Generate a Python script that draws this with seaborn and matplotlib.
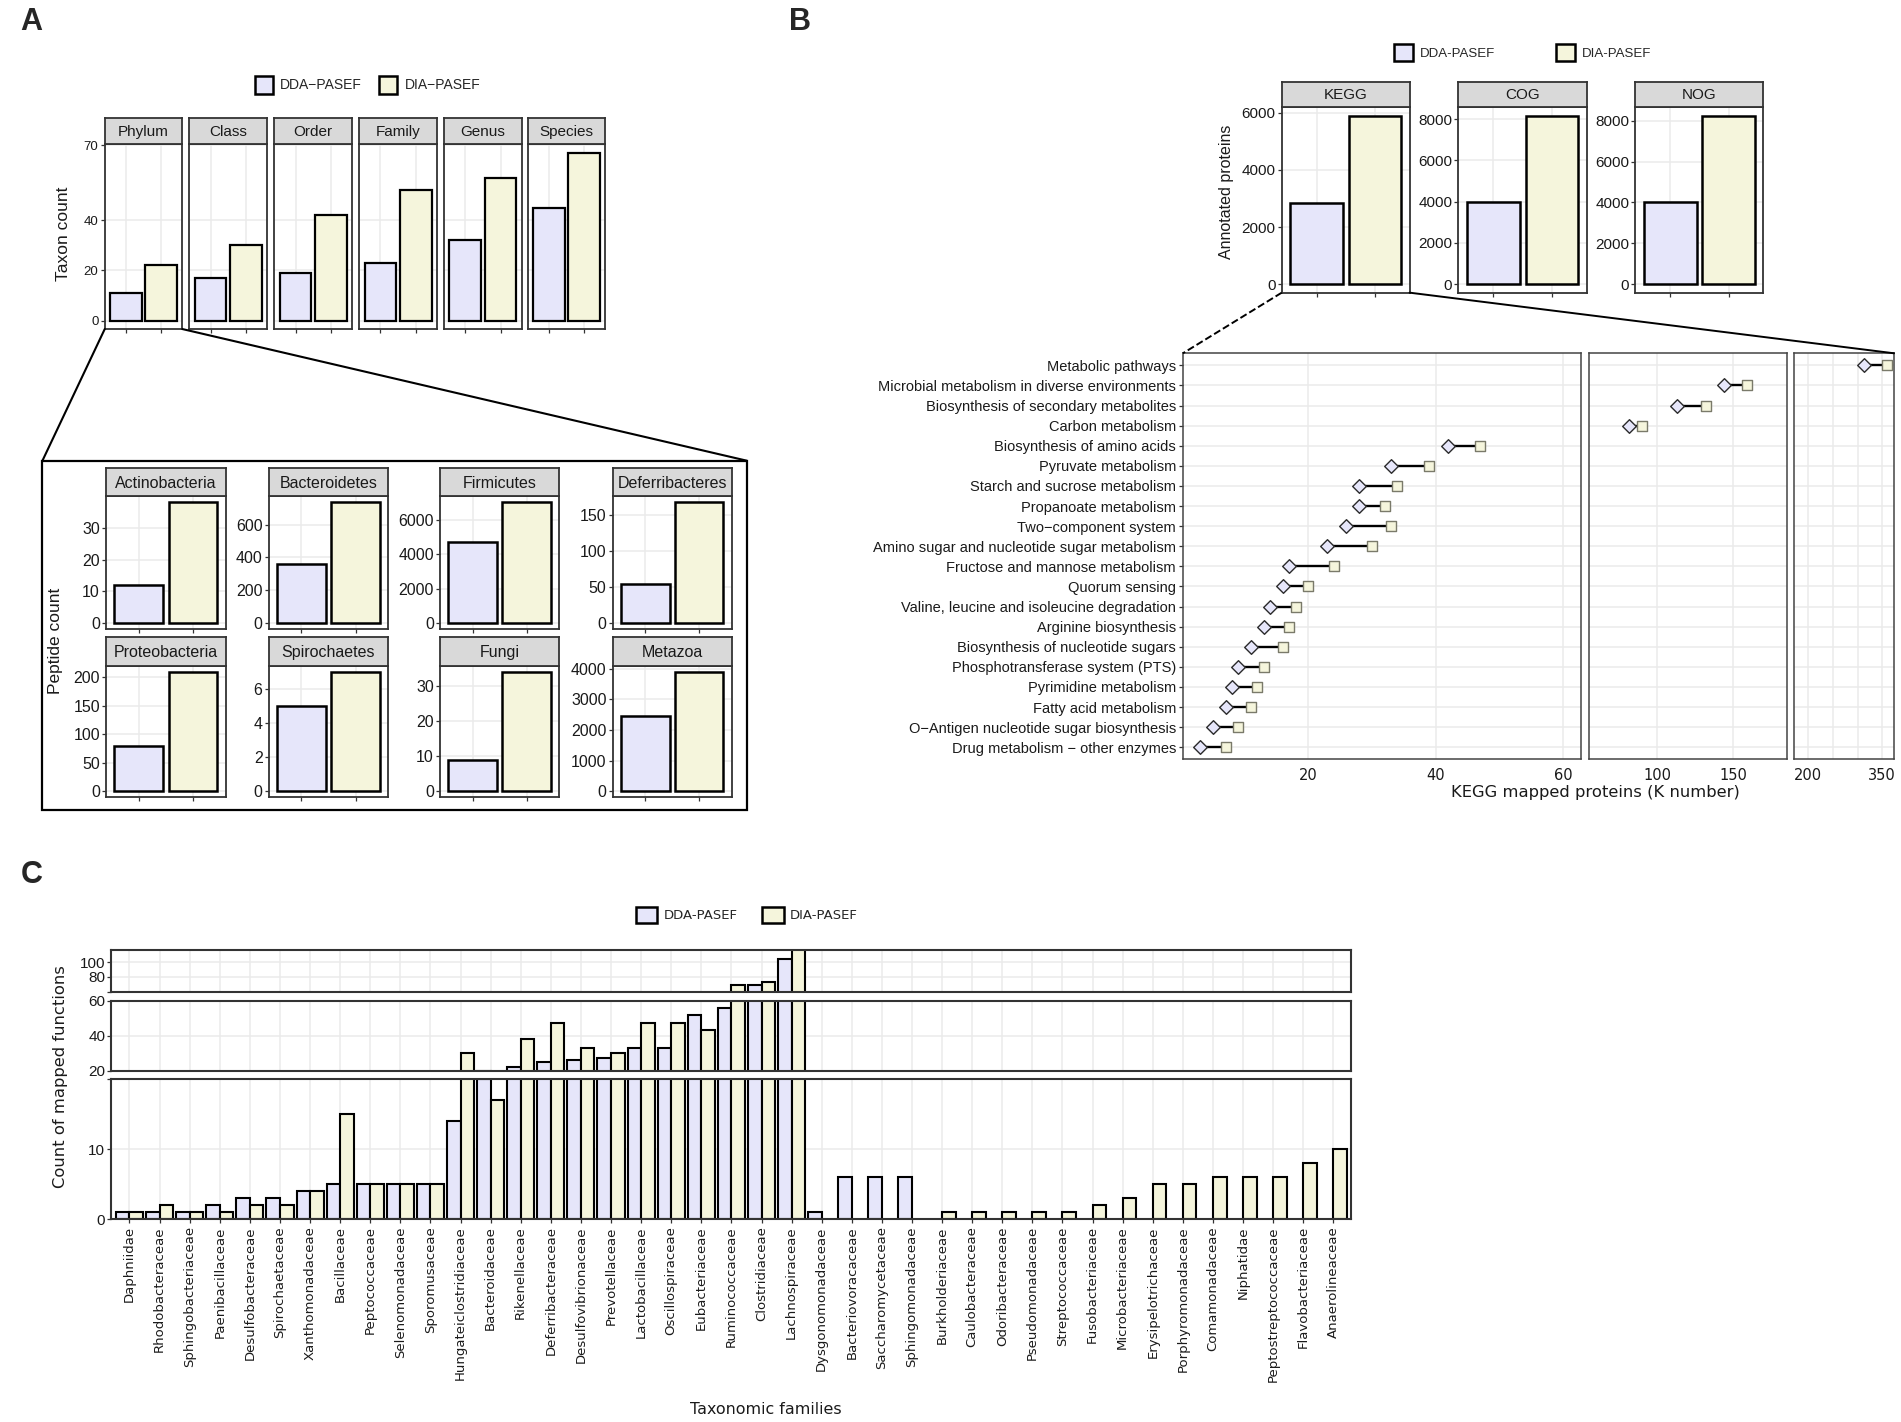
import numpy as np
import pandas as pd
import matplotlib
matplotlib.use("Agg")
import matplotlib.pyplot as plt
import seaborn as sns
from matplotlib.patches import Patch, Rectangle
from matplotlib.lines import Line2D

sns.set_theme(style="white")
plt.rcParams["font.family"] = ["Liberation Sans", "DejaVu Sans"]

# ---------------- data ----------------
# Panel A (top): taxon counts per taxonomic level
taxa_levels = ["Phylum", "Class", "Order", "Family", "Genus", "Species"]
taxa_dda = [11, 17, 19, 23, 32, 45]
taxa_dia = [22, 30, 42, 52, 57, 67]
taxa_yticks = [0, 20, 40, 70]

# Panel A (inset): peptide counts per phylum
phyla = ["Actinobacteria", "Bacteroidetes", "Firmicutes", "Deferribacteres",
         "Proteobacteria", "Spirochaetes", "Fungi", "Metazoa"]
pep_dda = [12, 358, 4700, 54, 80, 5, 9, 2440]
pep_dia = [38, 735, 7010, 167, 210, 7, 34, 3900]
pep_yticks = [[0, 10, 20, 30], [0, 200, 400, 600], [0, 2000, 4000, 6000],
              [0, 50, 100, 150], [0, 50, 100, 150, 200], [0, 2, 4, 6],
              [0, 10, 20, 30], [0, 1000, 2000, 3000, 4000]]

# Panel B (top): annotated proteins
databases = ["KEGG", "COG", "NOG"]
ann_dda = [2840, 3970, 4030]
ann_dia = [5900, 8160, 8240]
ann_yticks = [[0, 2000, 4000, 6000], [0, 2000, 4000, 6000, 8000],
              [0, 2000, 4000, 6000, 8000]]

# Panel B (bottom): KEGG pathways
pathways = ["Metabolic pathways",
            "Microbial metabolism in diverse environments",
            "Biosynthesis of secondary metabolites",
            "Carbon metabolism",
            "Biosynthesis of amino acids",
            "Pyruvate metabolism",
            "Starch and sucrose metabolism",
            "Propanoate metabolism",
            "Two\u2212component system",
            "Amino sugar and nucleotide sugar metabolism",
            "Fructose and mannose metabolism",
            "Quorum sensing",
            "Valine, leucine and isoleucine degradation",
            "Arginine biosynthesis",
            "Biosynthesis of nucleotide sugars",
            "Phosphotransferase system (PTS)",
            "Pyrimidine metabolism",
            "Fatty acid metabolism",
            "O\u2212Antigen nucleotide sugar biosynthesis",
            "Drug metabolism \u2212 other enzymes"]
kegg_dda = [313, 144, 113, 81, 42, 33, 28, 28, 26, 23, 17, 16, 14, 13, 11, 9, 8, 7, 5, 3]
kegg_dia = [359, 159, 132, 90, 47, 39, 34, 32, 33, 30, 24, 20, 18, 17, 16, 13, 12, 11, 9, 7]
kegg_xlims = [(0.3, 62.8), (54.7, 185.9), (171.6, 373.7)]
kegg_xgrid = [[20, 40, 60], [100, 150], [200, 250, 300, 350]]
kegg_xticklabels = [["20", "40", "60"], ["100", "150"], ["200", "", "", "350"]]

# Panel C: mapped functions per taxonomic family
families = ["Daphniidae", "Rhodobacteraceae", "Sphingobacteriaceae", "Paenibacillaceae",
            "Desulfobacteraceae", "Spirochaetaceae", "Xanthomonadaceae", "Bacillaceae",
            "Peptococcaceae", "Selenomonadaceae", "Sporomusaceae", "Hungateiclostridiaceae",
            "Bacteroidaceae", "Rikenellaceae", "Deferribacteraceae", "Desulfovibrionaceae",
            "Prevotellaceae", "Lactobacillaceae", "Oscillospiraceae", "Eubacteriaceae",
            "Ruminococcaceae", "Clostridiaceae", "Lachnospiraceae", "Dysgonomonadaceae",
            "Bacteriovoracaceae", "Saccharomycetaceae", "Sphingomonadaceae", "Burkholderiaceae",
            "Caulobacteraceae", "Odoribacteraceae", "Pseudomonadaceae", "Streptococcaceae",
            "Fusobacteriaceae", "Microbacteriaceae", "Erysipelotrichaceae", "Porphyromonadaceae",
            "Comamonadaceae", "Niphatidae", "Peptostreptococcaceae", "Flavobacteriaceae",
            "Anaerolineaceae"]
fam_dda = [1, 1, 1, 2, 3, 3, 4, 5, 5, 5, 5, 14, 20, 22, 25, 26, 27, 33, 33, 52, 56, 69, 105,
           1, 6, 6, 6, 0, 0, 0, 0, 0, 0, 0, 0, 0, 0, 0, 0, 0, 0]
fam_dia = [1, 2, 1, 1, 2, 2, 4, 15, 5, 5, 5, 30, 17, 38, 47, 33, 30, 47, 47, 43, 69, 73, 125,
           0, 0, 0, 0, 1, 1, 1, 1, 1, 2, 3, 5, 5, 6, 6, 6, 8, 10]
c_ranges = [(60, 116), (20, 60), (0, 20)]
c_yticks = [[60, 80, 100], [20, 40, 60], [0, 10, 20]]
c_yticklabels = [["", "80", "100"], ["20", "40", "60"], ["0", "10", ""]]

# ---------------- styling ----------------
DDA_C = "#E6E6FA"
DIA_C = "#F5F5DC"
GRID = "#EBEBEB"
BORDER = "#333333"
TXT = "#1A1A1A"
SANS = ["Liberation Sans", "DejaVu Sans"]
VERD = ["DejaVu Sans"]

W, H = 1901, 1422
S = 1901 / 1568.0
fig = plt.figure(figsize=(W / 100, H / 100), dpi=100)
fig.patch.set_facecolor("white")


def R(x0, y0, x1, y1):
    return [x0 * S / W, 1 - y1 * S / H, (x1 - x0) * S / W, (y1 - y0) * S / H]


def P(x, y):
    return (x * S / W, 1 - y * S / H)


def style(ax, lw=1.3, border=BORDER):
    ax.set_facecolor("white")
    for sp in ax.spines.values():
        sp.set_visible(True)
        sp.set_color(border)
        sp.set_linewidth(lw)
    ax.grid(True, color=GRID, linewidth=1.1)
    ax.set_axisbelow(True)
    ax.tick_params(left=True, bottom=True, direction="out", length=3, width=0.9,
                   color=BORDER, labelcolor=TXT, pad=1.5)
    ax.set_xlabel("")
    ax.set_ylabel("")


def strip(rect, text, fs, fam, lw=1.3):
    a = fig.add_axes(rect)
    a.set_facecolor("#D9D9D9")
    a.set_xticks([])
    a.set_yticks([])
    for sp in a.spines.values():
        sp.set_visible(True)
        sp.set_color(BORDER)
        sp.set_linewidth(lw)
    a.text(0.5, 0.47, text, ha="center", va="center", fontsize=fs, family=fam,
           color=TXT, transform=a.transAxes)


def facet(rect, srect, title, dda, dia, labels, ylim, yticks, showy, fs_tick, fs_strip,
          fam, lw_border=1.3, lw_bar=1.6):
    ax = fig.add_axes(rect)
    df = pd.DataFrame({"method": labels, "value": [dda, dia]})
    sns.barplot(data=df, x="method", y="value", hue="method", palette=[DDA_C, DIA_C],
                saturation=1, width=0.9, edgecolor="black", linewidth=lw_bar, ax=ax,
                legend=False)
    style(ax, lw=lw_border)
    ax.set_xlim(-0.6, 1.6)
    ax.set_ylim(*ylim)
    ax.set_yticks(yticks)
    if showy:
        ax.set_yticklabels([str(t) for t in yticks], fontsize=fs_tick, family=fam)
    else:
        ax.tick_params(axis="y", left=False, labelleft=False)
    ax.set_xticks([0, 1])
    ax.set_xticklabels(["", ""])
    ax.tick_params(axis="x", length=3)
    strip(srect, title, fs_strip, fam, lw=lw_border)
    return ax


def legend(center, labels, fs, fam, spacing, hl=1.0, hh=1.2):
    handles = [Patch(facecolor=DDA_C, edgecolor="black", linewidth=1.8),
               Patch(facecolor=DIA_C, edgecolor="black", linewidth=1.8)]
    fig.legend(handles, labels, loc="center", bbox_to_anchor=P(*center), ncol=2,
               frameon=False, prop={"family": fam, "size": fs}, handlelength=hl,
               handleheight=hh, columnspacing=spacing, handletextpad=0.5,
               borderaxespad=0)


# ---------------- Panel A ----------------
fig.text(*P(17, 18), "A", fontsize=22, fontweight="bold", family=SANS, va="center")
labA = ["DDA\u2212PASEF", "DIA\u2212PASEF"]
legend((303, 70), labA, 10, SANS, 1.2, hl=1.35, hh=1.55)

a_x = [(86.4, 150.4), (156.2, 220.2), (226.3, 290.3), (296.3, 360.3), (366.3, 430.3), (435.4, 499.4)]
ymaxA = max(taxa_dda + taxa_dia)
for i, lev in enumerate(taxa_levels):
    x0, x1 = a_x[i]
    facet(R(x0, 119, x1, 271.4), R(x0, 97.5, x1, 119), lev, taxa_dda[i], taxa_dia[i], labA,
          (-0.05 * ymaxA, 1.05 * ymaxA), taxa_yticks, i == 0, 9.5, 11, SANS)
fig.text(*P(52, 193), "Taxon count", rotation=90, fontsize=12.5, family=SANS,
         ha="center", va="center", color=TXT)

# inset box
x0f, y0f = P(35, 668)
x1f, y1f = P(616, 380)
fig.add_artist(Rectangle((x0f, y0f), x1f - x0f, y1f - y0f, transform=fig.transFigure,
                         fill=False, edgecolor="black", linewidth=1.6))
for (xa, ya), (xb, yb) in [((86.4, 271.4), (35, 380)), ((150.4, 271.4), (616, 380))]:
    pa, pb = P(xa, ya), P(xb, yb)
    fig.add_artist(Line2D([pa[0], pb[0]], [pa[1], pb[1]], transform=fig.transFigure,
                          color="black", linewidth=1.5))

in_x = [(87.6, 186), (221.7, 320.2), (363, 461.4), (505.5, 603.4)]
in_rows = [(386, 409.5, 518.8), (525.5, 549, 657.6)]
for i, ph in enumerate(phyla):
    r, c = divmod(i, 4)
    x0, x1 = in_x[c]
    ys, yp, yb = in_rows[r]
    m = max(pep_dda[i], pep_dia[i])
    facet(R(x0, yp, x1, yb), R(x0, ys, x1, yp), ph, pep_dda[i], pep_dia[i], labA,
          (-0.05 * m, 1.05 * m), pep_yticks[i], True, 11.5, 11.5, SANS, lw_bar=1.8)
fig.text(*P(46, 529), "Peptide count", rotation=90, fontsize=12.5, family=SANS,
         ha="center", va="center", color=TXT)

# ---------------- Panel B ----------------
fig.text(*P(651, 18), "B", fontsize=22, fontweight="bold", family=SANS, va="center")
labB = ["DDA-PASEF", "DIA-PASEF"]
legend((1256, 43.5), labB, 9.5, SANS, 4.6, hl=1.45, hh=1.65)
b_x = [(1057.2, 1162.7), (1203, 1308.8), (1349, 1454.5)]
for i, db in enumerate(databases):
    x0, x1 = b_x[i]
    m = max(ann_dda[i], ann_dia[i])
    facet(R(x0, 88.5, x1, 241.4), R(x0, 67.4, x1, 88.5), db, ann_dda[i], ann_dia[i], labB,
          (-0.05 * m, 1.05 * m), ann_yticks[i], True, 11, 11, SANS, lw_bar=1.8)
fig.text(*P(1012, 158), "Annotated proteins", rotation=90, fontsize=11.5, family=SANS,
         ha="center", va="center", color=TXT)

# dot plot
dfk = pd.DataFrame({"pathway": pathways * 2,
                    "method": ["DDA"] * len(pathways) + ["DIA"] * len(pathways),
                    "value": kegg_dda + kegg_dia})
k_x = [(975.7, 1303.8), (1310.4, 1474.2), (1480, 1562.2)]
for k in range(3):
    x0, x1 = k_x[k]
    ax = fig.add_axes(R(x0, 291.4, x1, 626.3))
    sns.scatterplot(data=dfk[dfk.method == "DDA"], x="value", y="pathway", marker="D",
                    s=48, color=DDA_C, edgecolor="#2b2b2b", linewidth=1.0, ax=ax,
                    zorder=4, legend=False)
    ax.hlines(pathways, kegg_dda, kegg_dia, color="black", linewidth=1.7, zorder=3)
    sns.scatterplot(data=dfk[dfk.method == "DIA"], x="value", y="pathway", marker="s",
                    s=58, color=DIA_C, edgecolor="#7a7a6a", linewidth=1.0, ax=ax,
                    zorder=5, legend=False)
    style(ax, lw=1.1, border="#444444")
    ax.set_xlim(*kegg_xlims[k])
    ax.set_ylim(len(pathways) - 0.4, -0.6)
    ax.set_yticks(range(len(pathways)))
    ax.set_xticks(kegg_xgrid[k])
    ax.set_xticklabels(kegg_xticklabels[k], fontsize=10.5, family=VERD)
    ax.tick_params(axis="x", bottom=False, pad=3)
    if k == 0:
        ax.set_yticklabels(pathways, fontsize=10.5, family=SANS)
        ax.tick_params(axis="y", length=3, pad=2)
    else:
        ax.tick_params(axis="y", left=False, labelleft=False)
fig.text(*P(1316, 654), "KEGG mapped proteins (K number)", fontsize=11.8, family=VERD,
         ha="center", va="center", color=TXT)

for (xa, ya), (xb, yb), ls in [((1057.2, 241.4), (975.7, 291.4), "--"),
                               ((1162.7, 241.4), (1562.2, 291.4), "-")]:
    pa, pb = P(xa, ya), P(xb, yb)
    fig.add_artist(Line2D([pa[0], pb[0]], [pa[1], pb[1]], transform=fig.transFigure,
                          color="black", linewidth=1.4, linestyle=ls))

# ---------------- Panel C ----------------
fig.text(*P(17, 722), "C", fontsize=22, fontweight="bold", family=SANS, va="center")
legend((616, 754.7), labB, 9.5, VERD, 1.9, hl=1.6, hh=1.6)
dfc = pd.DataFrame({"family": families * 2,
                    "method": ["DDA-PASEF"] * len(families) + ["DIA-PASEF"] * len(families),
                    "count": fam_dda + fam_dia})
dfc = dfc[dfc["count"] > 0]
c_rows = [(784, 818), (825.3, 883), (890.2, 1005.7)]
for j in range(3):
    y0, y1 = c_rows[j]
    ax = fig.add_axes(R(91.9, y0, 1114.7, y1))
    sns.barplot(data=dfc, x="family", y="count", hue="method", order=families,
                hue_order=labB, palette=[DDA_C, DIA_C], saturation=1, width=0.9,
                dodge=True, edgecolor="black", linewidth=1.5, ax=ax, legend=False)
    style(ax, lw=1.5)
    ax.set_xlim(-0.6, len(families) - 0.4)
    ax.set_ylim(*c_ranges[j])
    ax.set_yticks(c_yticks[j])
    ax.set_yticklabels(c_yticklabels[j], fontsize=11, family=SANS)
    if j < 2:
        ax.tick_params(axis="x", bottom=False, labelbottom=False)
    else:
        ax.set_xticks(range(len(families)))
        ax.set_xticklabels(families, rotation=90, fontsize=9.5, family=VERD)
        ax.tick_params(axis="x", length=3, pad=2)
fig.text(*P(49.6, 888), "Count of mapped functions", rotation=90, fontsize=11.8,
         family=VERD, ha="center", va="center", color=TXT)
fig.text(*P(632, 1163), "Taxonomic families", fontsize=11.4, family=VERD,
         ha="center", va="center", color=TXT)

fig.savefig("out.png", dpi=100, facecolor="white")
